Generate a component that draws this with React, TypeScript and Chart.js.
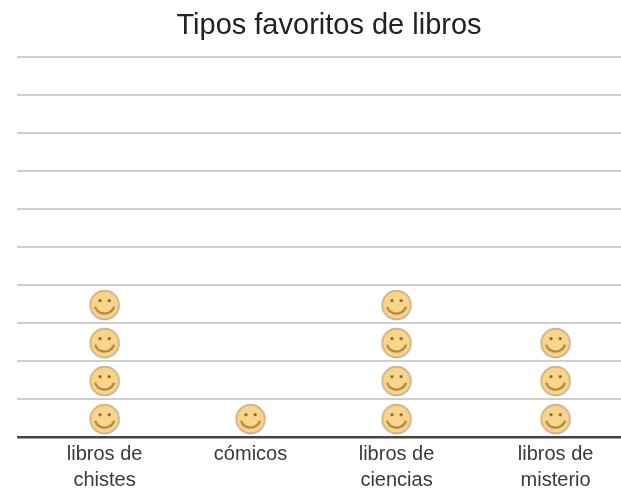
import React, { useEffect, useRef } from "react";
import { Chart, registerables } from "chart.js";

Chart.register(...registerables);

const titleText = "Tipos favoritos de libros";
const categories: (string | string[])[] = [
  ["libros de", "chistes"],
  "cómicos",
  ["libros de", "ciencias"],
  ["libros de", "misterio"],
];
const faceCounts = [4, 1, 4, 3];
// Column slots on the x axis (the source spaces its last column slightly wider)
const columnSlots = [0, 1, 2, 3.09];
const rowTicks = [0, 1, 2, 3, 4, 5, 6, 7, 8, 9, 10];

function makeFace(): HTMLCanvasElement {
  const size = 34;
  const c = document.createElement("canvas");
  c.width = size;
  c.height = size;
  const g = c.getContext("2d")!;
  const m = size / 2;
  g.beginPath();
  g.arc(m, m, 14.4, 0, Math.PI * 2);
  g.fillStyle = "#FAD488";
  g.fill();
  g.lineWidth = 1.6;
  g.strokeStyle = "#C4B08C";
  g.stroke();
  g.fillStyle = "#6E5A3C";
  g.beginPath();
  g.arc(m - 4.6, m - 4.4, 1.5, 0, Math.PI * 2);
  g.arc(m + 4.6, m - 4.4, 1.5, 0, Math.PI * 2);
  g.fill();
  g.beginPath();
  g.arc(m, m - 1.5, 10, Math.PI * 0.1, Math.PI * 0.9);
  g.lineWidth = 2;
  g.strokeStyle = "#A8813F";
  g.stroke();
  return c;
}

export default function App() {
  const ref = useRef<HTMLCanvasElement>(null);
  useEffect(() => {
    const points: { x: number; y: number }[] = [];
    faceCounts.forEach((count, col) => {
      for (let i = 0; i < count; i++) points.push({ x: columnSlots[col], y: i + 0.47 });
    });
    const chart = new Chart(ref.current!, {
      type: "scatter",
      data: {
        datasets: [
          {
            data: points,
            pointStyle: makeFace() as any,
            pointRadius: 15,
            clip: false as any,
          },
        ],
      },
      options: {
        animation: false,
        responsive: false,
        layout: { padding: { left: 17, right: 0, top: 0, bottom: 0 } },
        plugins: {
          legend: { display: false },
          tooltip: { enabled: false },
          title: {
            display: true,
            text: titleText,
            fullSize: false,
            color: "#222222",
            font: { family: "'Liberation Sans'", size: 29, weight: "normal" },
            padding: { top: 9, bottom: 13 },
          },
        },
        scales: {
          x: {
            type: "linear",
            min: -0.6,
            max: 3.675,
            afterBuildTicks: (axis: any) => {
              axis.ticks = columnSlots.map((v) => ({ value: v }));
            },
            grid: { display: false, drawTicks: false },
            border: { display: false },
            ticks: {
              autoSkip: false,
              maxRotation: 0,
              padding: 4,
              color: "#3a3a3a",
              font: { family: "'Liberation Sans'", size: 20, lineHeight: 1.3 },
              callback: (_v: any, i: number) => categories[i],
            },
          },
          y: {
            min: 0,
            max: 10,
            afterBuildTicks: (axis: any) => {
              axis.ticks = rowTicks.map((v) => ({ value: v }));
            },
            ticks: { display: false },
            border: { display: false },
            grid: {
              drawTicks: false,
              lineWidth: (ctx: any) => (ctx.tick.value === 0 ? 2.5 : 2),
              color: (ctx: any) => (ctx.tick.value === 0 ? "#444444" : "#cfcfcf"),
            },
          },
        },
      },
    });
    return () => chart.destroy();
  }, []);
  return (
    <div style={{ position: "fixed", left: 0, top: 0, width: 621, height: 488, overflow: "hidden", background: "#fff" }}>
      <canvas ref={ref} width={657} height={497} style={{ display: "block", filter: "blur(0.6px)" }} />
    </div>
  );
}
